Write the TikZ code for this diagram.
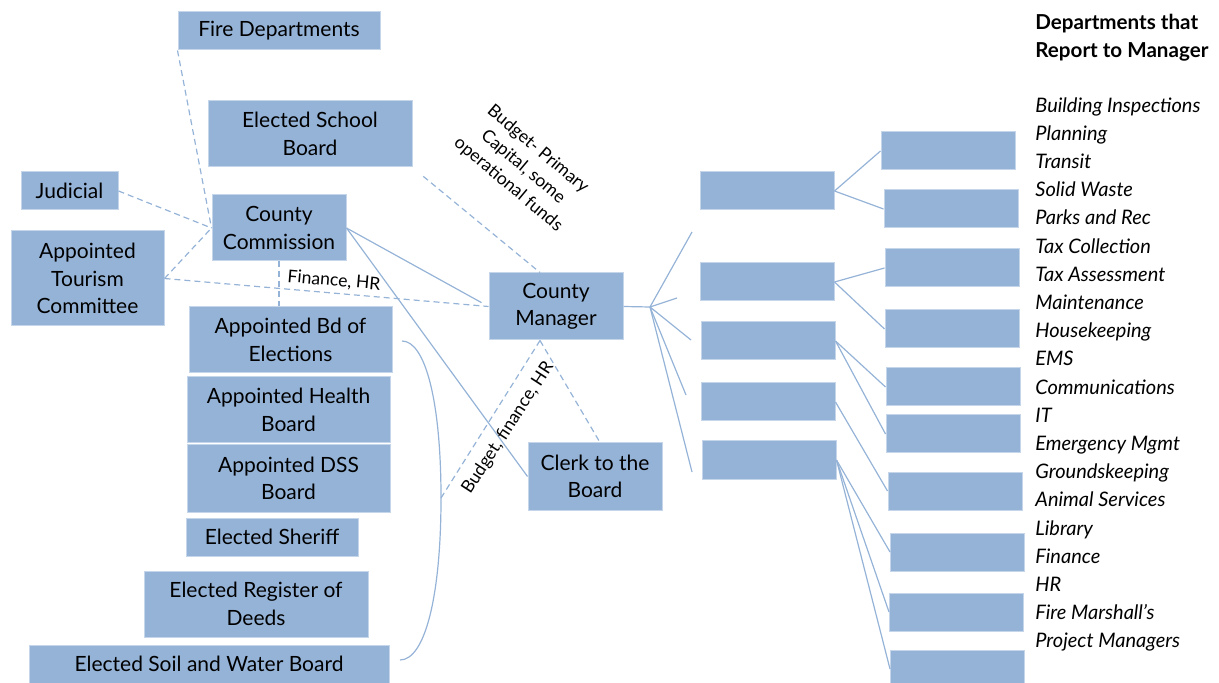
\documentclass[tikz,border=0pt]{standalone}
\usepackage{fontspec}
\setmainfont{Lato}
\usepackage{tikz}
\usetikzlibrary {positioning}
\definecolor{boxblue}{HTML}{95B3D7}
\definecolor{boxline}{HTML}{C5D6EA}
\tikzset{
        base/.style={fill=boxblue, draw=boxline, line width=0.5pt, align=center,
                     inner sep=0pt, font=\fontsize{10.5}{13.8}\selectfont},
        short/.style={base, minimum height=19pt},
        tall/.style={base, minimum height=33pt},
        dept/.style={short, minimum width=67pt},
        link/.style={draw=boxblue, line width=0.6pt},
        tie/.style={link, dash pattern=on 3pt off 2pt},
        note/.style={align=center, inner sep=1pt, font=\fontsize{8.8}{11.5}\selectfont},
 }
\begin{document}
\begin{tikzpicture}[x=0.5pt, y=-0.5pt]
    \useasboundingbox (0,0) rectangle (1219,683);

    % board side
    \node[short, minimum width=101pt] (fire) at (279,31) {Fire Departments};
    \node[tall, minimum width=102pt] (school) at (310,134) {Elected School\\Board};
    \node[short, minimum width=48.5pt] (judicial) at (69.5,191) {Judicial};
    \node[tall, minimum width=67pt] (comm) at (279,228) {County\\Commission};
    \node[base, minimum width=76.5pt, minimum height=47.5pt] (tourism) at (87.5,278.5)
        {Appointed\\Tourism\\Committee};
    \node[tall, minimum width=101.5pt] (elections) at (290.5,340) {Appointed Bd of\\Elections};
    \node[tall, minimum width=101.5pt] (health) at (288.5,410) {Appointed Health\\Board};
    \node[tall, minimum width=101.5pt, minimum height=33.5pt] (dss) at (288.5,478.5)
        {Appointed DSS\\Board};
    \node[short, minimum width=86pt] (sheriff) at (272,537) {Elected Sheriff};
    \node[tall, minimum width=112pt] (deeds) at (256,604) {Elected Register of\\Deeds};
    \node[short, minimum width=180pt] (soil) at (209,664) {Elected Soil and Water Board};

    \node[tall, minimum width=67pt, minimum height=33.5pt] (manager) at (556,306.5)
        {County\\Manager};
    \node[tall, minimum width=67pt, minimum height=33.5pt] (clerk) at (595,476.5)
        {Clerk to the\\Board};

    % manager's departments
    \node[dept] (grp1) at (767,191) {};
    \node[dept] (grp2) at (767,282) {};
    \node[dept] (grp3) at (768,341) {};
    \node[dept] (grp4) at (768,402) {};
    \node[dept] (grp5) at (769,460) {};

    \node[dept] (dept1) at (948,151) {};
    \node[dept] (dept2) at (951,209) {};
    \node[dept] (dept3) at (952,268) {};
    \node[dept] (dept4) at (952,329) {};
    \node[dept] (dept5) at (953,387) {};
    \node[dept] (dept6) at (953,434) {};
    \node[dept] (dept7) at (955,491) {};
    \node[dept] (dept8) at (957.5,552) {};
    \node[dept] (dept9) at (956.5,612) {};
    \node[dept] (dept10) at (957.5,669) {};

    \node[anchor=north west, align=left, inner sep=0pt,
          font=\fontsize{10.3}{14}\selectfont\bfseries] (head) at (1035,14)
        {Departments that\\Report to Manager};
    \node[anchor=north west, align=left, inner sep=0pt,
          font=\fontsize{10}{14.1}\selectfont\itshape] (list) at (1035,97)
        {Building Inspections\\Planning\\Transit\\Solid Waste\\Parks and Rec\\
         Tax Collection\\Tax Assessment\\Maintenance\\Housekeeping\\EMS\\
         Communications\\IT\\Emergency Mgmt\\Groundskeeping\\Animal Services\\
         Library\\Finance\\HR\\Fire Marshall’s\\Project Managers};

    % dashed ties
    \draw[tie] (fire.south west) -- (comm.west);
    \draw[tie] (judicial.east) -- (comm.west);
    \draw[tie] (tourism.east) -- (comm.west);
    \draw[tie] (tourism.east) -- node[note, pos=0.52, above=1pt, sloped] (fin) {Finance, HR}
        (manager.west);
    \draw[tie] (comm.south) -- (comm.south |- elections.north);
    \draw[tie, shorten <=7pt] (school.south east) -- ([xshift=-8pt]manager.north);
    \draw[tie] ([xshift=-8pt]manager.south) -- ([xshift=2.5pt]clerk.north);

    % solid lines
    \draw[link, shorten >=4pt] (comm.east) -- (manager.west);
    \draw[link] (comm.east) -- (clerk.west);

    % bracket round the boards
    \coordinate (brtop) at (402,341);
    \coordinate (brmid) at (441,498);
    \coordinate (brbot) at (400,660);
    \draw[link] (brtop) .. controls (425,341) and (441,400) .. (brmid)
                        .. controls (441,596) and (425,660) .. (brbot);
    \draw[tie] ([xshift=-8pt]manager.south) -- (brmid);

    \node[note, rotate=-40] (capital) at (523,167)
        {Budget- Primary\\Capital, some\\operational funds};
    \node[note, rotate=57] (budget) at (508,428) {Budget, finance, HR};

    % fan out of the manager
    \coordinate (hub) at (650,307);
    \coordinate (tip1) at (692,232);
    \coordinate (tip2) at (677,298);
    \coordinate (tip3) at (691,340);
    \coordinate (tip4) at (686,395);
    \coordinate (tip5) at (692,472);
    \draw[link] (manager.east) -- (hub);
    \draw[link] (hub) -- (tip1);
    \draw[link] (hub) -- (tip2);
    \draw[link] (hub) -- (tip3);
    \draw[link] (hub) -- (tip4);
    \draw[link] (hub) -- (tip5);

    \draw[link] (grp1.east) -- (dept1.west);
    \draw[link] (grp1.east) -- (dept2.west);
    \draw[link] (grp2.east) -- (dept3.west);
    \draw[link] (grp2.east) -- (dept4.west);
    \draw[link] (grp3.east) -- (dept5.west);
    \draw[link] (grp3.east) -- (dept6.west);
    \draw[link] (grp4.east) -- (dept7.west);
    \draw[link] (grp5.east) -- (dept8.west);
    \draw[link] (grp5.east) -- (dept9.west);
    \draw[link] (grp5.east) -- (dept10.west);
\end{tikzpicture}
\end{document}
